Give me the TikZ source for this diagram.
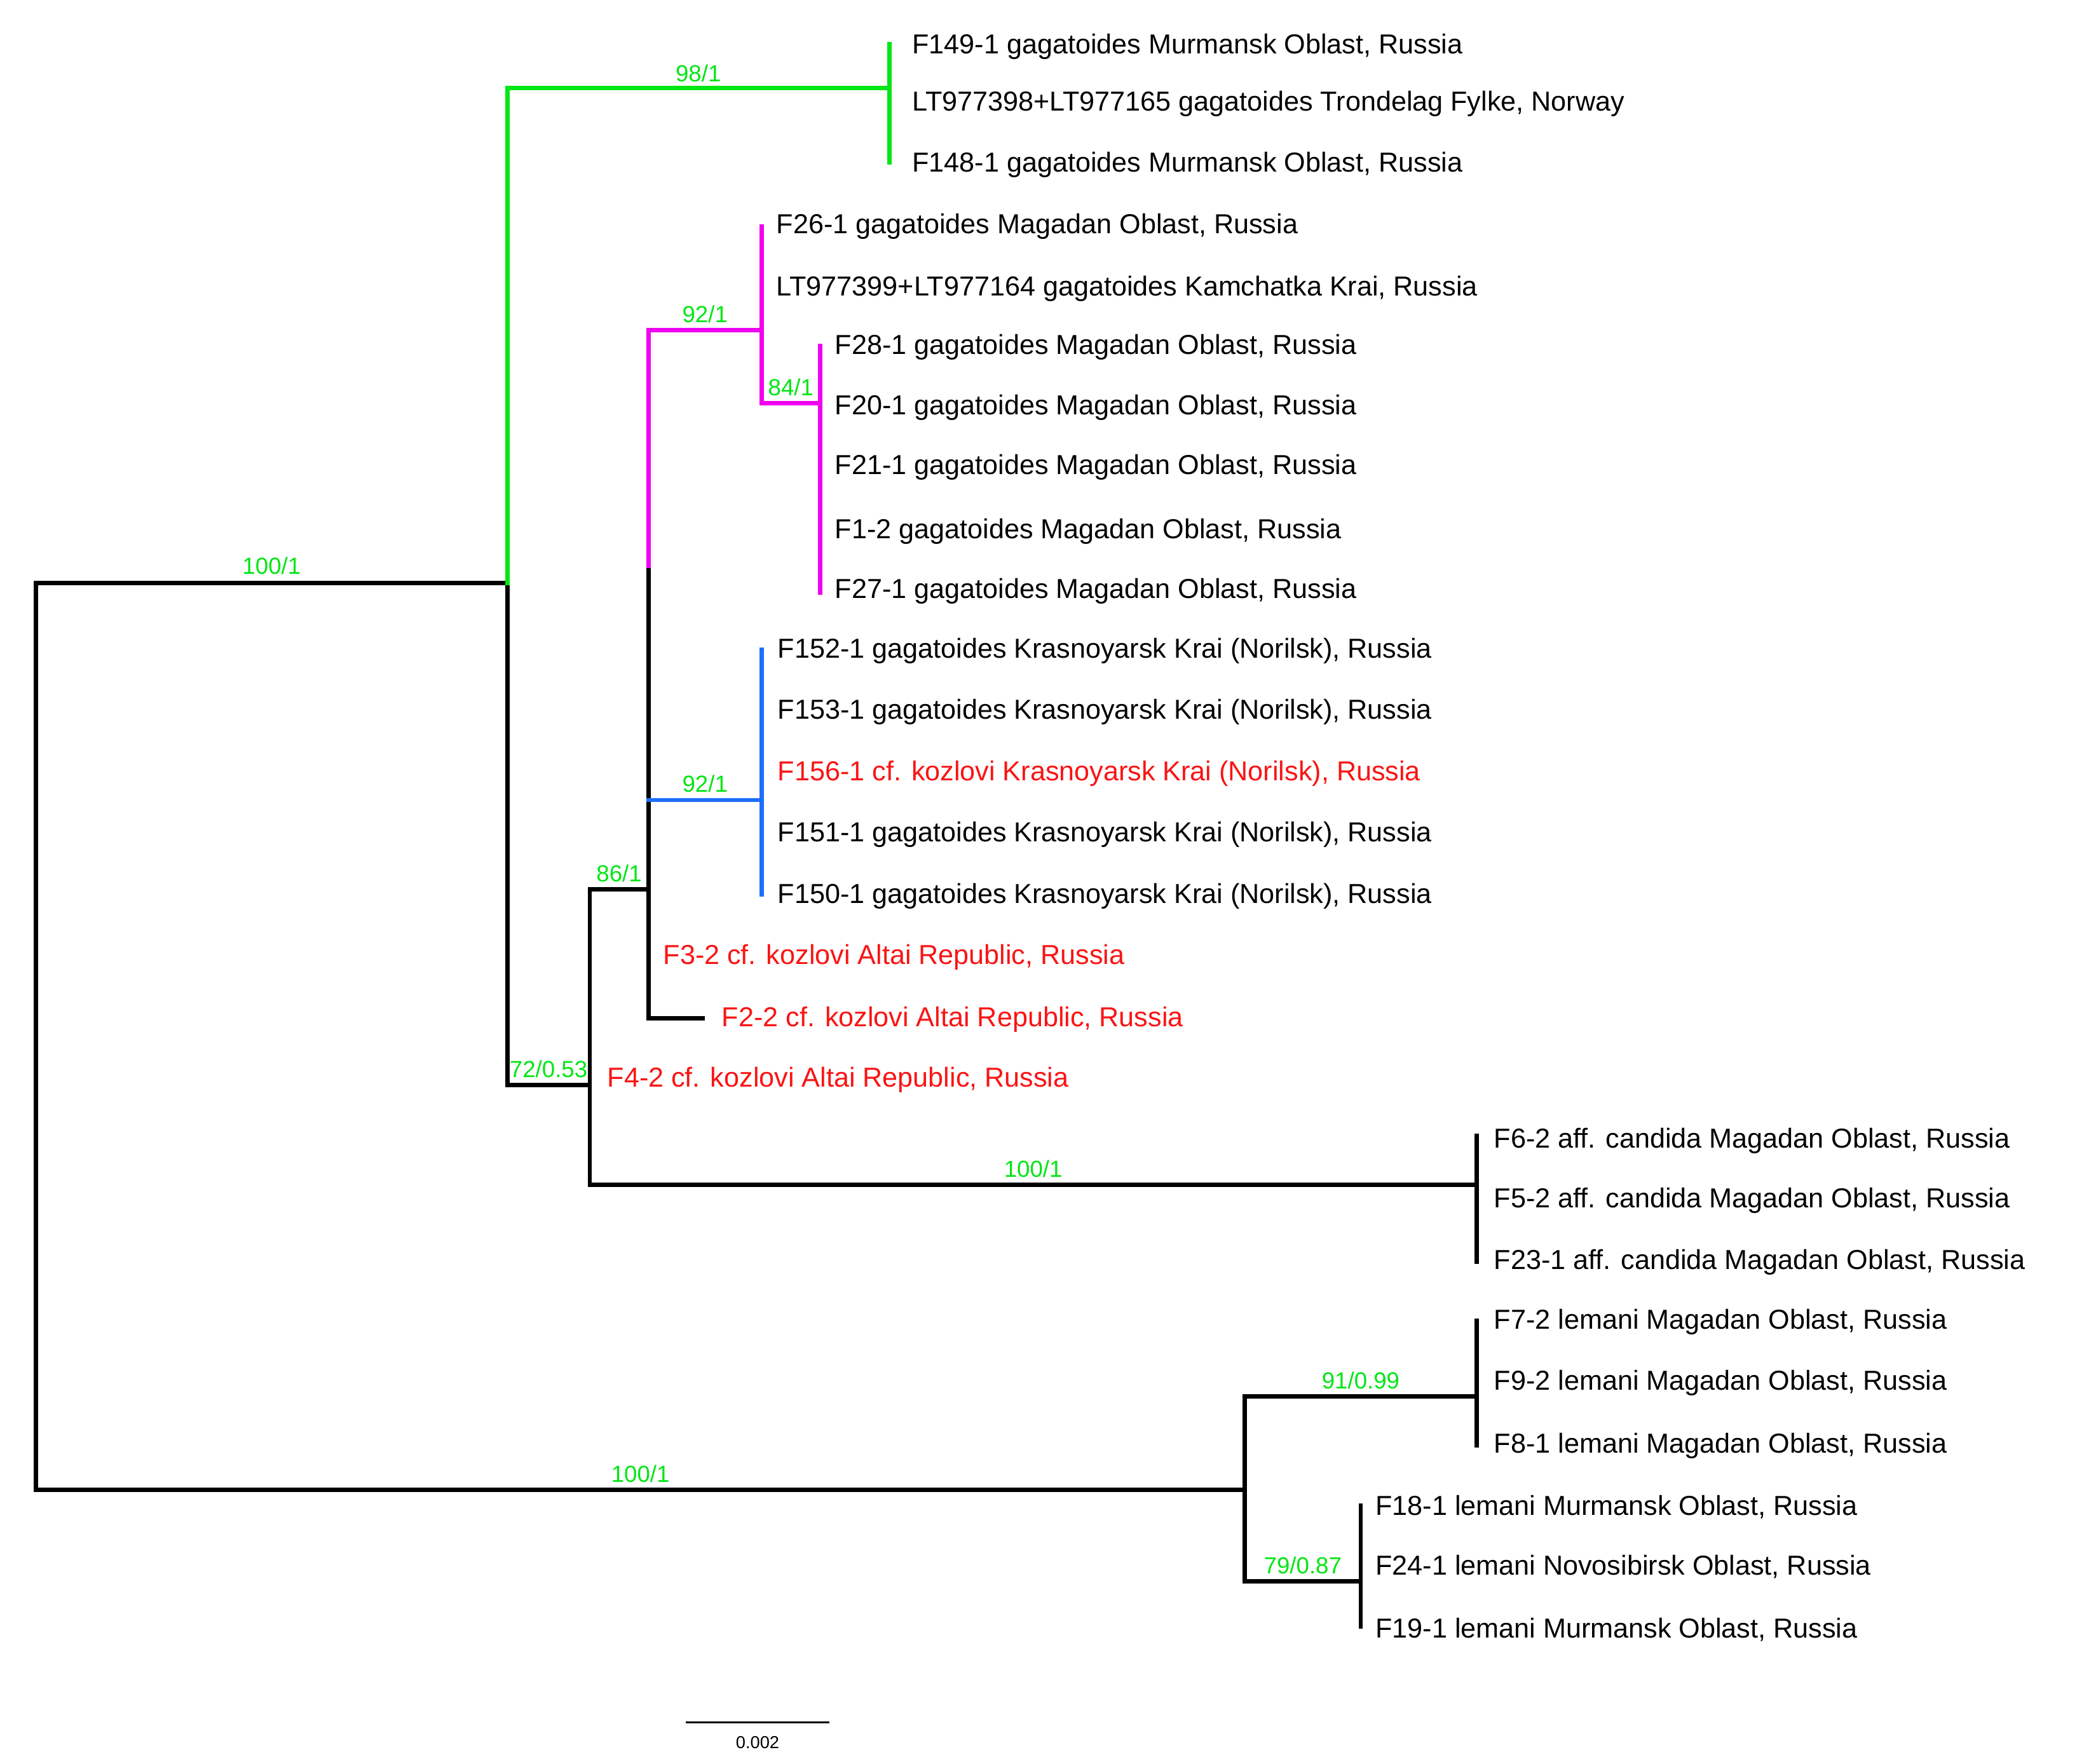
\documentclass[tikz,border=0pt]{standalone}
\usepackage{fontspec}
\setmainfont{Liberation Sans}
\definecolor{tg}{RGB}{0,230,20}
\definecolor{tm}{RGB}{240,0,240}
\definecolor{tb}{RGB}{30,110,255}
\definecolor{tr}{RGB}{250,20,20}
\begin{document}
\begin{tikzpicture}[x=1pt,y=-1pt,
 br/.style={line width=3.2pt,line cap=rect},
 lf/.style={anchor=west,font=\fontsize{20.6}{22}\selectfont,inner sep=0pt},
 bs/.style={font=\fontsize{17.5}{19}\selectfont,text=tg,anchor=south,inner sep=1pt}]
\useasboundingbox (0,0) rectangle (1560,1325);
% internal coordinates
\coordinate (r) at (27,438); \coordinate (rb) at (27,1119);
\coordinate (a) at (381,438);
\coordinate (g) at (668,66);
\coordinate (b) at (443,815);
\coordinate (c) at (487,668);
\coordinate (m) at (572,248);
\coordinate (m2) at (616,303);
\coordinate (bl) at (572,601);
\coordinate (cd) at (1109,890);
\coordinate (l) at (935,1119);
\coordinate (l1) at (1109,1049);
\coordinate (l2) at (1022,1188);
% root
\draw[br] (r) -- (rb);
\draw[br] (r) -- (a) node[bs,midway,above=4pt] {100/1};
\draw[br] (a) -- (381,815);
\draw[br,tg] (a) |- (g) node[bs,pos=0.75,above=2pt] {98/1};
\draw[br,tg] (668,33) -- (668,122);
\draw[br] (381,815) -- (b) node[bs,midway,above=3pt] {72/0.53};
\draw[br] (443,668) -- (443,890);
\draw[br] (443,668) -- (c) node[bs,midway,above=3pt] {86/1};
\draw[br] (487,425) -- (487,765) -- (528,765);
\draw[br,tm] (487,425) -- (487,248) -- (m) node[bs,midway,above=3pt] {92/1};
\draw[br,tm] (572,170) -- (572,303) -- (m2) node[bs,midway,above=3pt] {84/1};
\draw[br,tm] (616,260) -- (616,445);
\draw[br,tb] (487,601) -- (bl) node[bs,midway,above=3pt] {92/1};
\draw[br,tb] (572,488) -- (572,672);
\draw[br] (443,890) -- (cd) node[bs,midway,above=3pt] {100/1};
\draw[br] (1109,853) -- (1109,948);
\draw[br] (rb) -- (l) node[bs,midway,above=3pt] {100/1};
\draw[br] (935,1049) -- (935,1188);
\draw[br] (935,1049) -- (l1) node[bs,midway,above=3pt] {91/0.99};
\draw[br] (1109,992) -- (1109,1086);
\draw[br] (935,1188) -- (l2) node[bs,midway,above=3pt] {79/0.87};
\draw[br] (1022,1131) -- (1022,1222);
% leaves
\node[lf] (t1) at (685,35) {F149-1 gagatoides Murmansk Oblast, Russia};
\node[lf] (t2) at (685,78) {LT977398+LT977165 gagatoides Trondelag Fylke, Norway};
\node[lf] (t3) at (685,124) {F148-1 gagatoides Murmansk Oblast, Russia};
\node[lf] (t4) at (583,170) {F26-1 gagatoides Magadan Oblast, Russia};
\node[lf] (t5) at (583,217) {LT977399+LT977164 gagatoides Kamchatka Krai, Russia};
\node[lf] (t6) at (627,261) {F28-1 gagatoides Magadan Oblast, Russia};
\node[lf] (t7) at (627,306) {F20-1 gagatoides Magadan Oblast, Russia};
\node[lf] (t8) at (627,351) {F21-1 gagatoides Magadan Oblast, Russia};
\node[lf] (t9) at (627,399) {F1-2 gagatoides Magadan Oblast, Russia};
\node[lf] (t10) at (627,444) {F27-1 gagatoides Magadan Oblast, Russia};
\node[lf] (t11) at (584,489) {F152-1 gagatoides Krasnoyarsk Krai (Norilsk), Russia};
\node[lf] (t12) at (584,535) {F153-1 gagatoides Krasnoyarsk Krai (Norilsk), Russia};
\node[lf,text=tr] (t13) at (584,581) {F156-1 cf. kozlovi Krasnoyarsk Krai (Norilsk), Russia};
\node[lf] (t14) at (584,627) {F151-1 gagatoides Krasnoyarsk Krai (Norilsk), Russia};
\node[lf] (t15) at (584,673) {F150-1 gagatoides Krasnoyarsk Krai (Norilsk), Russia};
\node[lf,text=tr] (t16) at (498,719) {F3-2 cf. kozlovi Altai Republic, Russia};
\node[lf,text=tr] (t17) at (542,766) {F2-2 cf. kozlovi Altai Republic, Russia};
\node[lf,text=tr] (t18) at (456,811) {F4-2 cf. kozlovi Altai Republic, Russia};
\node[lf] (t19) at (1122,857) {F6-2 aff. candida Magadan Oblast, Russia};
\node[lf] (t20) at (1122,902) {F5-2 aff. candida Magadan Oblast, Russia};
\node[lf] (t21) at (1122,948) {F23-1 aff. candida Magadan Oblast, Russia};
\node[lf] (t22) at (1122,993) {F7-2 lemani Magadan Oblast, Russia};
\node[lf] (t23) at (1122,1039) {F9-2 lemani Magadan Oblast, Russia};
\node[lf] (t24) at (1122,1086) {F8-1 lemani Magadan Oblast, Russia};
\node[lf] (t25) at (1033,1132) {F18-1 lemani Murmansk Oblast, Russia};
\node[lf] (t26) at (1033,1177) {F24-1 lemani Novosibirsk Oblast, Russia};
\node[lf] (t27) at (1033,1224) {F19-1 lemani Murmansk Oblast, Russia};
% scale bar
\coordinate (s1) at (515,1294); \coordinate (s2) at (623,1294);
\draw[line width=1.5pt] (s1) -- (s2);
\node[font=\fontsize{13}{15}\selectfont] (sl) at (569,1309) {0.002};
\end{tikzpicture}
\end{document}
